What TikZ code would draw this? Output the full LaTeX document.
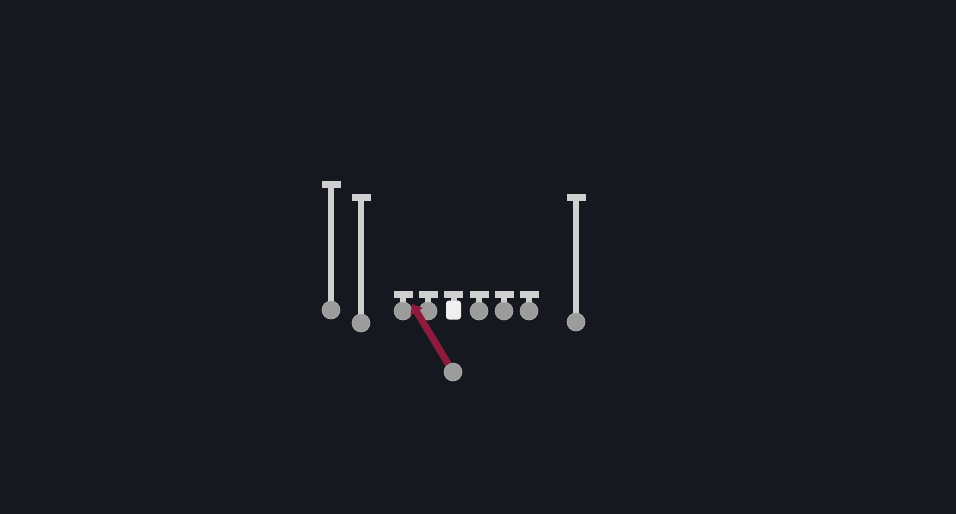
\documentclass[tikz,border=0pt]{standalone}
\usetikzlibrary{arrows.meta}
\definecolor{bg}{HTML}{15181F}
\definecolor{stem}{HTML}{CFCFCF}
\definecolor{dot}{HTML}{9C9C9C}
\definecolor{route}{HTML}{8E1B3C}
\tikzset{
  player/.style={circle,fill=dot,draw=dot!80!white,line width=0.6pt,minimum size=18pt,inner sep=0pt},
  centerbox/.style={rectangle,rounded corners=3pt,fill=white!94!black,minimum width=15pt,minimum height=19pt,inner sep=0pt},
  stemline/.style={draw=stem,line width=6pt},
  tbar/.style={draw=stem,line width=7pt},
  routeline/.style={draw=route,line width=7pt,-{Triangle[length=9pt,width=14pt]}}
}
\begin{document}
\begin{tikzpicture}[x=1pt,y=-1pt]
\fill[bg] (0,0) rectangle (956,514);
\useasboundingbox (0,0) rectangle (956,514);
% receivers
\coordinate (t1) at (331,184);
\coordinate (t2) at (361,197);
\coordinate (t3) at (576,197);
\draw[stemline] (t1) -- (331,305);
\draw[stemline] (t2) -- (361,318);
\draw[stemline] (t3) -- (576,317);
\draw[tbar] ([xshift=-9.5pt]t1) -- ([xshift=9.5pt]t1);
\draw[tbar] ([xshift=-9.5pt]t2) -- ([xshift=9.5pt]t2);
\draw[tbar] ([xshift=-9.5pt]t3) -- ([xshift=9.5pt]t3);
\node[player] (r1) at (331,310) {};
\node[player] (r2) at (361,323) {};
\node[player] (r3) at (576,322) {};
% linemen blocks
\foreach \n/\x in {l1/403,l2/428,c/453.5,l4/479,l5/504,l6/529}{
  \coordinate (\n top) at (\x,294);
  \draw[tbar] ([xshift=-9.5pt]\n top) -- ([xshift=9.5pt]\n top);
  \draw[stemline] (\n top) -- (\x,304);
}
\node[player] (l1) at (403,311) {};
\node[player] (l2) at (428,311) {};
\node[centerbox] (c) at (453.5,310) {};
\node[player] (l4) at (479,311) {};
\node[player] (l5) at (504,311) {};
\node[player] (l6) at (529,311) {};
% back and route
\node[player] (qb) at (453,372) {};
\coordinate (tip) at (412,304);
\draw[routeline] (qb) -- (tip);
\end{tikzpicture}
\end{document}
